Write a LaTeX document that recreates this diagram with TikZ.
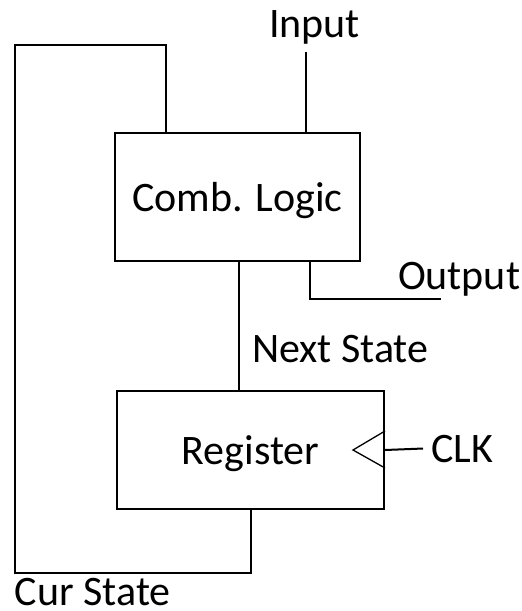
\documentclass[tikz,border=0pt]{standalone}
\usepackage{fontspec}
\setmainfont{Carlito}
\usetikzlibrary{positioning}
\begin{document}
\begin{tikzpicture}[x=1pt, y=-1pt, line width=2pt,
  every node/.style={font={\fontsize{42}{50}\selectfont}, inner sep=0pt},
  block/.style={draw=black, rectangle, text depth=0pt},
  tag/.style={draw=none, anchor=base west}]
\path[use as bounding box] (0,0) rectangle (522,611);
\node[block, minimum width=245pt, minimum height=128pt] (comb) at (237.5,197) {Comb. Logic};
\node[block, minimum width=267pt, minimum height=118pt] (reg) at (250.5,450) {Register};
\node[tag] (input) at (268,37) {Input};
\node[tag] (output) at (397,289) {Output};
\node[tag] (next) at (251,362) {Next State};
\node[tag] (clk) at (430,462) {CLK};
\node[tag] (cur) at (14,605) {Cur State};
\coordinate (in) at (306,52);
\coordinate (out) at (441,299);
\draw (in) -- (in |- comb.north);
\draw ([xshift=72.5pt]comb.south) |- (out);
\draw ([xshift=1.5pt]comb.south) -- ([xshift=1.5pt]comb.south |- reg.north);
\draw (reg.south) -- ++(0,63) -| (15,45) -| ([xshift=-71.5pt]comb.north);
\draw[line width=1.3pt] ([yshift=19pt]reg.east) -- ([xshift=-32pt]reg.east) -- ([yshift=-18pt]reg.east);
\draw (reg.east) -- ([xshift=-7pt]clk.west);
\end{tikzpicture}
\end{document}
